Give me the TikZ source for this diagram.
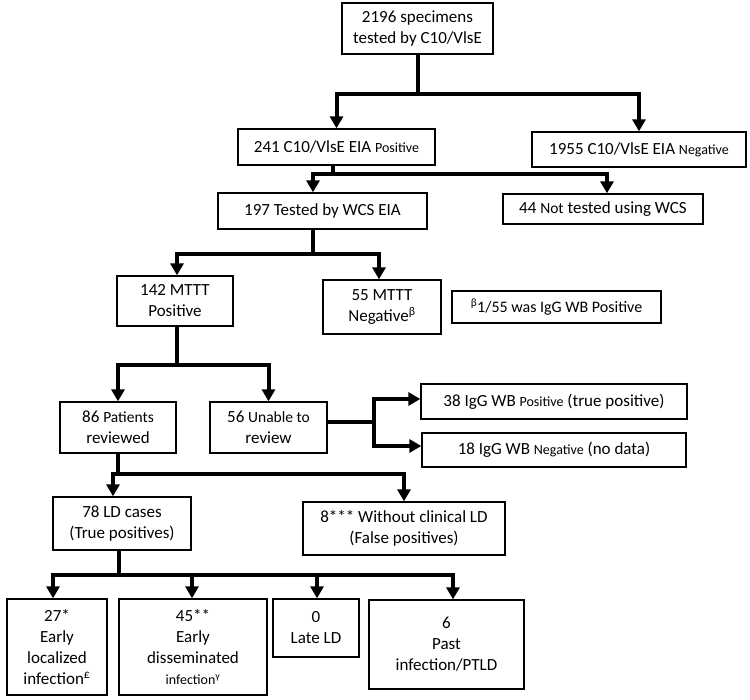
\documentclass[tikz,border=0pt]{standalone}
\usepackage{fontspec}
\setmainfont{Carlito}
\usepackage{tikz}
\usetikzlibrary{arrows.meta,positioning,calc}
\newcommand{\sm}[1]{{\fontsize{14}{17}\selectfont #1}}
\newcommand{\md}[1]{{\fontsize{15.5}{19}\selectfont #1}}

\begin{document}
\begin{tikzpicture}[x=1pt, y=-1pt,
    box/.style={rectangle, draw=black, line width=1.3pt, align=center, inner sep=2pt, font=\fontsize{17}{21}\selectfont},
    flow/.style={line width=4pt, -{Triangle[length=12pt,width=13pt]}}
]
    \useasboundingbox (0,0) rectangle (750,700);

    % first level
    \node[box, minimum width=151pt, minimum height=51pt] (spec) at (417.5,28.5) {2196 specimens\\tested by C10/VlsE};
    \node[box, minimum width=197pt, minimum height=36pt] (pos) at (336.5,147) {241 C10/VlsE EIA \sm{Positive}};
    \node[box, minimum width=214pt, minimum height=35pt] (neg) at (639,149.5) {1955 C10/VlsE EIA \sm{Negative}};
    \node[box, minimum width=209pt, minimum height=36pt] (wcs) at (322.5,211) {197 Tested by WCS EIA};
    \node[box, minimum width=200pt, minimum height=30pt] (notwcs) at (603,209) {44 \md{Not} tested using WCS};

    % MTTT
    \node[box, minimum width=116pt, minimum height=50pt] (mtpos) at (175,301) {142 MTTT\\Positive};
    \node[box, minimum width=118pt, minimum height=54pt] (mtneg) at (382,307) {55 MTTT\\Negative\textsuperscript{β}};
    \node[box, minimum width=209pt, minimum height=32pt, font=\fontsize{16}{19}\selectfont] (note) at (556.5,307) {\textsuperscript{β}1/55 was IgG WB Positive};

    % review
    \node[box, minimum width=116pt, minimum height=51pt] (rev) at (118,427.5) {86 \md{Patients}\\reviewed};
    \node[box, minimum width=117pt, minimum height=51pt] (unable) at (268.5,427.5) {56 \md{Unable to}\\review};
    \node[box, minimum width=266pt, minimum height=35pt] (wbpos) at (554,401.5) {38 IgG WB \sm{Positive} (true positive)};
    \node[box, minimum width=264pt, minimum height=34pt] (wbneg) at (554,450) {18 IgG WB \sm{Negative} (no data)};

    % clinical
    \node[box, minimum width=138pt, minimum height=53pt] (ld) at (122,523.5) {78 LD cases\\(True positives)};
    \node[box, minimum width=202pt, minimum height=53pt] (nold) at (404,528.5) {8*** Without clinical LD\\(False positives)};

    \node[box, minimum width=100pt, minimum height=96pt] (early) at (57,647) {27*\\Early\\localized\\infection\textsuperscript{£}};
    \node[box, minimum width=148pt, minimum height=96pt] (diss) at (193,647) {45**\\Early\\disseminated\\\sm{infection\textsuperscript{γ}}};
    \node[box, minimum width=86pt, minimum height=58pt] (late) at (316,628) {0\\Late LD};
    \node[box, minimum width=155pt, minimum height=89pt] (past) at (446.5,644.5) {6\\Past\\infection/PTLD};

    \draw[flow] (spec.south) -- ++(0,39) -| (pos.north);
    \draw[flow] (spec.south) -- ++(0,39) -| (neg.north);

    \draw[flow] ([xshift=-3.5pt]pos.south) -- ++(0,8) -| ([xshift=-9.5pt]wcs.north);
    \draw[flow] ([xshift=-3.5pt]pos.south) -- ++(0,8) -| ([xshift=4pt]notwcs.north);

    \draw[flow] ([xshift=-9.5pt]wcs.south) -- ++(0,24) -| ([xshift=2pt]mtpos.north);
    \draw[flow] ([xshift=-9.5pt]wcs.south) -- ++(0,24) -| ([xshift=-3pt]mtneg.north);

    \draw[flow] ([xshift=2pt]mtpos.south) -- ++(0,38) -| (rev.north);
    \draw[flow] ([xshift=2pt]mtpos.south) -- ++(0,38) -| (unable.north);

    \draw[flow] ([yshift=5.5pt]unable.east) -- ++(46,0) |- ([yshift=2.5pt]wbpos.west);
    \draw[flow] ([yshift=5.5pt]unable.east) -- ++(46,0) |- ([yshift=4pt]wbneg.west);

    \draw[flow] (rev.south) -- ++(0,20) -| ([xshift=-9pt]ld.north);
    \draw[flow] (rev.south) -- ++(0,20) -| (nold.north);

    \draw[flow] ([xshift=-3pt]ld.south) -- ++(0,24) -| ([xshift=-4pt]early.north);
    \draw[flow] ([xshift=-3pt]ld.south) -- ++(0,24) -| ([xshift=-1pt]diss.north);
    \draw[flow] ([xshift=-3pt]ld.south) -- ++(0,24) -| ([xshift=1pt]late.north);
    \draw[flow] ([xshift=-3pt]ld.south) -- ++(0,24) -| ([xshift=6.5pt]past.north);
\end{tikzpicture}
\end{document}
